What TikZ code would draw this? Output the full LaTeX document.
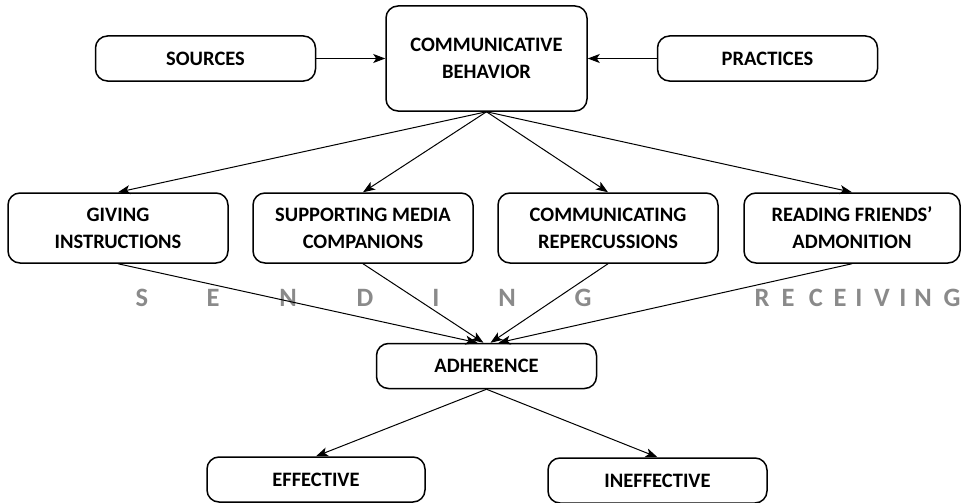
\documentclass[tikz,border=0pt]{standalone}
\usepackage{fontspec}
\setmainfont{Carlito}
\usetikzlibrary{arrows.meta}
\tikzstyle{rect} = [rectangle, rounded corners=12pt, minimum width=220pt, minimum height=45pt, text centered, align=center, draw=black, line width=1.5pt, font=\bfseries\fontsize{20.5}{27}\selectfont]
\tikzstyle{tall} = [rect, minimum height=70pt]
\tikzstyle{letter} = [font=\bfseries\fontsize{26.5}{26}\selectfont, text=black!46, inner sep=0pt]
\tikzstyle{arrow} = [-{Stealth[length=12pt,width=9pt,inset=3pt]}, line width=1pt]

\begin{document}
\begin{tikzpicture}[x=1pt, y=-1pt, node distance=281pt]
    \useasboundingbox (0,0) rectangle (961,503);
    \node (cb) [rect, minimum width=201pt, minimum height=105pt] at (486.5,58.5) {COMMUNICATIVE\\BEHAVIOR};
    \node (src) [rect, left of=cb] {SOURCES};
    \node (prac) [rect, right of=cb] {PRACTICES};
    \draw [arrow] (src.east) -- (cb.west);
    \draw [arrow] (prac.west) -- (cb.east);

    \node (gi) [tall] at (118,228) {GIVING\\INSTRUCTIONS};
    \node (smc) [tall, right of=gi, node distance=245pt] {SUPPORTING MEDIA\\COMPANIONS};
    \node (cr) [tall, right of=smc, node distance=245pt] {COMMUNICATING\\REPERCUSSIONS};
    \node (rfa) [tall, minimum width=216pt] at (852,228) {READING FRIENDS'\\ADMONITION};
    \draw [arrow] (cb.south) -- (gi.north);
    \draw [arrow] (cb.south) -- (smc.north);
    \draw [arrow] (cb.south) -- (cr.north);
    \draw [arrow] (cb.south) -- (rfa.north);

    % sending / receiving
    \foreach \l/\x [count=\i] in {S/142,E/213,N/288,D/365,I/436,N/507,G/583}
        \node (snd\i) [letter] at (\x,298) {\l};
    \foreach \l/\x [count=\i] in {R/762,E/788,C/816,E/840,I/859,V/882,I/903,N/923,G/952}
        \node (rcv\i) [letter] at (\x,298) {\l};

    \node (adh) [rect] at (486.5,366) {ADHERENCE};
    \draw [arrow] (gi.south) -- ([xshift=-9pt]adh.north);
    \draw [arrow] (smc.south) -- ([xshift=-3pt]adh.north);
    \draw [arrow] (cr.south) -- ([xshift=4pt]adh.north);
    \draw [arrow] (rfa.south) -- ([xshift=12pt]adh.north);

    \node (eff) [rect, minimum width=218pt] at (316,479.5) {EFFECTIVE};
    \node (ineff) [rect, minimum width=219pt] at (657.5,480.5) {INEFFECTIVE};
    \draw [arrow] (adh.south) -- (eff.north);
    \draw [arrow] (adh.south) -- (ineff.north);
\end{tikzpicture}
\end{document}
